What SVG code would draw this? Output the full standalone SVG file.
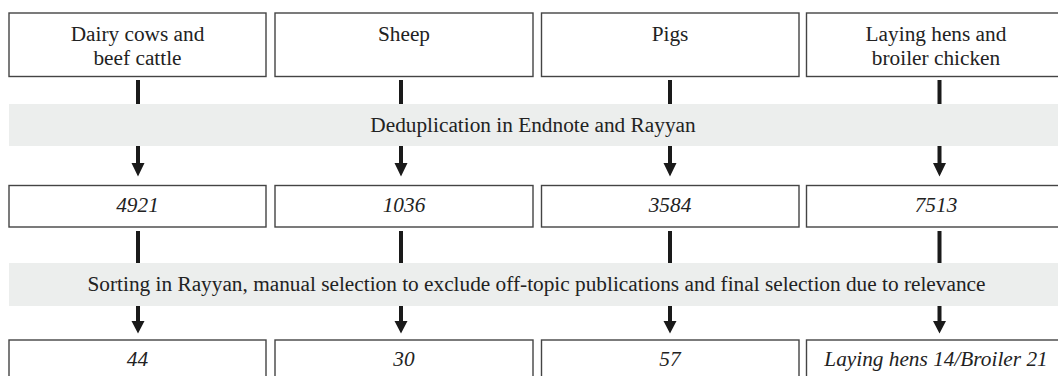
<svg xmlns="http://www.w3.org/2000/svg" width="1058" height="376" viewBox="0 0 1058 376">
<defs>
<style>
.box{fill:#fff;stroke:#444;stroke-width:1.4}
.band{fill:#eceeed}
.t{font-family:"Liberation Serif","Times New Roman",serif;font-size:21.3px;fill:#222;text-anchor:middle}
.i{font-style:italic}
.c{stroke:#1a1a1a;stroke-width:4;fill:none}
.h{fill:#1a1a1a}
</style>
</defs>
<rect width="1058" height="376" fill="#fff"/>
<g id="band1"><rect class="band" x="9" y="104" width="1049" height="42"/><text class="t" x="533" y="131.5">Deduplication in Endnote and Rayyan</text></g>
<g id="band2"><rect class="band" x="9" y="263" width="1049" height="43"/><text class="t" x="536.5" y="290.5">Sorting in Rayyan, manual selection to exclude off-topic publications and final selection due to relevance</text></g>
<g id="n1"><rect class="box" x="9" y="13" width="257" height="63.5"/><text class="t" x="137.5" y="40.5">Dairy cows and</text><text class="t" x="137.5" y="64.5">beef cattle</text></g>
<g id="n2"><rect class="box" x="275" y="13" width="258" height="63.5"/><text class="t" x="404" y="40.5">Sheep</text></g>
<g id="n3"><rect class="box" x="541.5" y="13" width="257.5" height="63.5"/><text class="t" x="670" y="40.5">Pigs</text></g>
<g id="n4"><rect class="box" x="806.5" y="13" width="260" height="63.5"/><text class="t" x="936" y="40.5">Laying hens and</text><text class="t" x="936" y="64.5">broiler chicken</text></g>
<g id="m1"><rect class="box" x="9" y="185.5" width="257" height="41.5"/><text class="t i" x="137.5" y="211.5">4921</text></g>
<g id="m2"><rect class="box" x="275" y="185.5" width="258" height="41.5"/><text class="t i" x="404" y="211.5">1036</text></g>
<g id="m3"><rect class="box" x="541.5" y="185.5" width="257.5" height="41.5"/><text class="t i" x="670" y="211.5">3584</text></g>
<g id="m4"><rect class="box" x="806.5" y="185.5" width="260" height="41.5"/><text class="t i" x="936" y="211.5">7513</text></g>
<g id="b1"><rect class="box" x="9" y="340" width="257" height="50"/><text class="t i" x="137.5" y="366">44</text></g>
<g id="b2"><rect class="box" x="275" y="340" width="258" height="50"/><text class="t i" x="404" y="366">30</text></g>
<g id="b3"><rect class="box" x="541.5" y="340" width="257.5" height="50"/><text class="t i" x="670" y="366">57</text></g>
<g id="b4"><rect class="box" x="806.5" y="340" width="260" height="50"/><text class="t i" x="936" y="366">Laying hens 14/Broiler 21</text></g>
<g id="connectors">
<path class="c" d="M138 80V104M401 80V104M670 80V104M939.5 80V104"/>
<path class="c" d="M138 146V164M401 146V164M670 146V164M939.5 146V164"/>
<path class="h" d="M131.5 163H144.5L138 176.5ZM394.5 163H407.5L401 176.5ZM663.5 163H676.5L670 176.5ZM933 163H946L939.5 176.5Z"/>
<path class="c" d="M138 231V263M401 231V263M670 231V263M939.5 231V263"/>
<path class="c" d="M138 306V322M401 306V322M670 306V322M939.5 306V322"/>
<path class="h" d="M131.5 321H144.5L138 333.5ZM394.5 321H407.5L401 333.5ZM663.5 321H676.5L670 333.5ZM933 321H946L939.5 333.5Z"/>
</g>
</svg>
